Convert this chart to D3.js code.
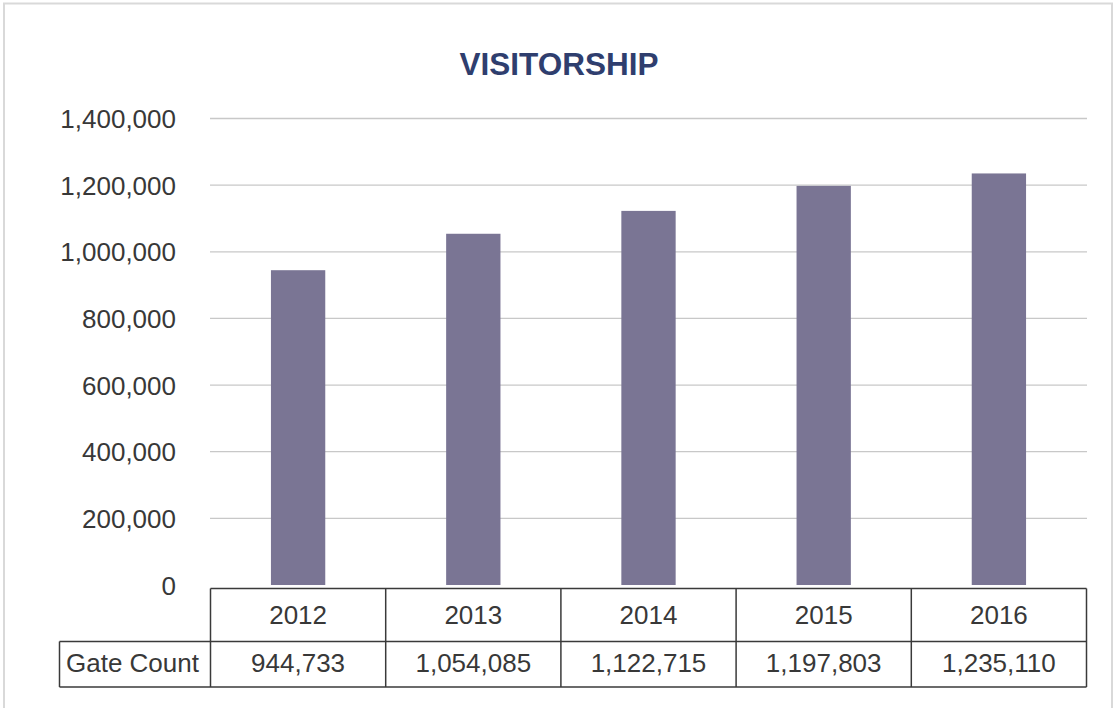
<!DOCTYPE html>
<html>
<head>
<meta charset="utf-8">
<script src="https://cdn.jsdelivr.net/npm/d3@7/dist/d3.min.js"></script>
<style>
html,body{margin:0;padding:0;background:#fff;}
svg{display:block;}
text{font-family:"Liberation Sans",Arial,sans-serif;}
</style>
</head>
<body>
<svg id="chart" width="1114" height="708"></svg>
<script>
const title = "VISITORSHIP";
const years = ["2012","2013","2014","2015","2016"];
const gateCount = [944733, 1054085, 1122715, 1197803, 1235110];
const yTicks = [0, 200000, 400000, 600000, 800000, 1000000, 1200000, 1400000];
const seriesName = "Gate Count";

const svg = d3.select("#chart");
const fmt = d3.format(",");

// outer border
svg.append("rect").attr("x",4).attr("y",3.5).attr("width",1108).attr("height",720)
  .attr("fill","none").attr("stroke","#d9d9d9").attr("stroke-width",2);

// title
svg.append("text").attr("x",559).attr("y",75).attr("text-anchor","middle")
  .attr("font-size",31.5).attr("font-weight","bold").attr("fill","#2f3e6e").text(title);

const x = d3.scaleBand().domain(years).range([210.5,1086.5]).paddingInner(0.69).paddingOuter(0.345);
const y = d3.scaleLinear().domain([0,1400000]).range([585,118.5]);

// gridlines
svg.append("g").selectAll("line").data(yTicks.filter(d=>d>0)).join("line")
  .attr("x1",210).attr("x2",1087).attr("y1",d=>y(d)).attr("y2",d=>y(d))
  .attr("stroke","#c8c8c8").attr("stroke-width",1.3);

// y axis labels
const yAxis = d3.axisLeft(y).tickValues(yTicks).tickFormat(fmt).tickSize(0).tickPadding(0);
const ga = svg.append("g").attr("transform","translate(176,0)").call(yAxis);
ga.select(".domain").remove();
ga.selectAll("text").attr("font-size",26).attr("fill","#383838").attr("font-family","'Liberation Sans',Arial,sans-serif").attr("dy","0.35em");

// bars
svg.append("g").selectAll("rect").data(years).join("rect")
  .attr("x",d=>x(d)).attr("width",x.bandwidth())
  .attr("y",(d,i)=>y(gateCount[i])).attr("height",(d,i)=>y(0)-y(gateCount[i]))
  .attr("fill","#7a7594");

// data table
const tTop = 588.5, tMid = 641.5, tBot = 687;
const step = x.step();
const left = x.range()[0], right = x.range()[1];
const tg = svg.append("g").attr("stroke","#3a3a3a").attr("stroke-width",1.5);
tg.append("line").attr("x1",left).attr("x2",right).attr("y1",tTop).attr("y2",tTop);
tg.append("line").attr("x1",59.5).attr("x2",right).attr("y1",tMid).attr("y2",tMid);
tg.append("line").attr("x1",59.5).attr("x2",right).attr("y1",tBot).attr("y2",tBot);
tg.append("line").attr("x1",59.5).attr("x2",59.5).attr("y1",tMid).attr("y2",tBot);
const bounds = years.map(d=>x(d) - step*x.paddingOuter()).concat([right]);
tg.selectAll("line.v").data(bounds).join("line").attr("class","v")
  .attr("x1",d=>d).attr("x2",d=>d).attr("y1",tTop).attr("y2",tBot);

svg.append("g").selectAll("text").data(years).join("text")
  .attr("x",d=>x(d)+x.bandwidth()/2).attr("y",624).attr("text-anchor","middle")
  .attr("font-size",26).attr("fill","#383838").text(d=>d);
svg.append("g").selectAll("text").data(gateCount).join("text")
  .attr("x",(d,i)=>x(years[i])+x.bandwidth()/2).attr("y",672).attr("text-anchor","middle")
  .attr("font-size",26).attr("fill","#383838").text(d=>fmt(d));
svg.append("text").attr("x",66).attr("y",672).attr("font-size",26).attr("fill","#383838").text(seriesName);
</script>
</body>
</html>
